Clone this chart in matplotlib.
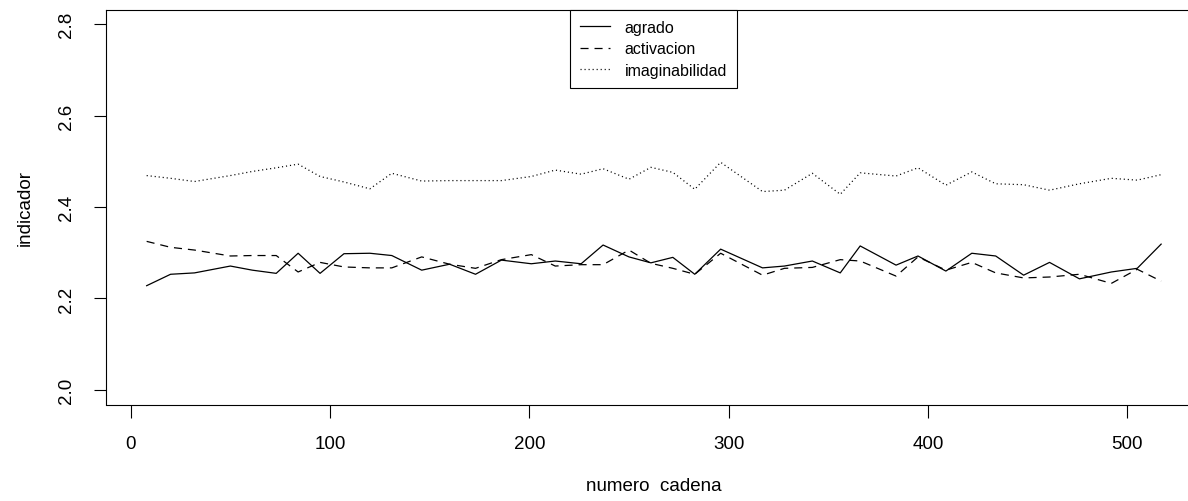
import matplotlib
matplotlib.use("Agg")
import matplotlib.pyplot as plt

# numero de cadena (eje x)
cadena = [8, 20, 32, 50, 61, 73, 84, 95, 107, 120,
          131, 146, 160, 173, 186, 201, 213, 226, 237, 250,
          261, 272, 283, 296, 317, 328, 342, 356, 366, 384,
          395, 409, 422, 434, 448, 461, 476, 492, 505, 517]

agrado = [2.228, 2.253, 2.256, 2.271, 2.262, 2.255, 2.299, 2.255, 2.298, 2.299,
          2.294, 2.262, 2.275, 2.253, 2.284, 2.276, 2.282, 2.276, 2.317, 2.291,
          2.278, 2.290, 2.253, 2.308, 2.267, 2.271, 2.282, 2.256, 2.315, 2.273,
          2.293, 2.260, 2.299, 2.293, 2.251, 2.279, 2.243, 2.258, 2.266, 2.319]

activacion = [2.325, 2.312, 2.306, 2.293, 2.294, 2.294, 2.258, 2.279, 2.269, 2.267,
              2.267, 2.291, 2.275, 2.266, 2.285, 2.296, 2.271, 2.274, 2.274, 2.306,
              2.277, 2.266, 2.253, 2.299, 2.251, 2.266, 2.268, 2.285, 2.282, 2.249,
              2.291, 2.262, 2.279, 2.256, 2.245, 2.247, 2.253, 2.233, 2.264, 2.238]

imaginabilidad = [2.469, 2.463, 2.456, 2.469, 2.478, 2.486, 2.494, 2.467, 2.455, 2.440,
                  2.474, 2.457, 2.458, 2.458, 2.458, 2.467, 2.481, 2.472, 2.484, 2.461,
                  2.487, 2.476, 2.439, 2.498, 2.434, 2.437, 2.474, 2.428, 2.475, 2.468,
                  2.486, 2.448, 2.477, 2.451, 2.449, 2.437, 2.451, 2.463, 2.459, 2.471]

x_ticks = [0, 100, 200, 300, 400, 500]
y_ticks = [2.0, 2.2, 2.4, 2.6, 2.8]

plt.rcParams['font.family'] = ['Liberation Sans', 'DejaVu Sans']
plt.rcParams['lines.scale_dashes'] = False

fig = plt.figure(figsize=(11.88, 5.02), dpi=100)
# el marco derecho queda fuera de la imagen, como en el original
ax = fig.add_axes([106 / 1188, 96.5 / 502, 1095 / 1188, 394.8 / 502])

ax.plot(cadena, agrado, color='black', lw=0.9, linestyle='-', label='agrado')
ax.plot(cadena, activacion, color='black', lw=0.9, linestyle=(0, (5.8, 4.3)), label='activacion')
ax.plot(cadena, imaginabilidad, color='black', lw=0.9, linestyle=(0, (0.8, 2.1)), label='imaginabilidad')

ax.set_xlim(-12.4, 537.0)
ax.set_ylim(1.968, 2.832)
ax.set_xticks(x_ticks)
ax.set_yticks(y_ticks)
ax.set_xticklabels([str(v) for v in x_ticks])
ax.set_yticklabels([f"{v:.1f}" for v in y_ticks], rotation=90, va='center')

for s in ax.spines.values():
    s.set_linewidth(0.8)
    s.set_color('black')

ax.tick_params(axis='both', direction='out', length=9, width=0.8, labelsize=13.5, colors='black')
ax.tick_params(axis='x', pad=13)
ax.tick_params(axis='y', pad=13)

ax.set_xlabel('numero  cadena', fontsize=13.5, labelpad=18)
ax.set_ylabel('indicador', fontsize=13.5, labelpad=18)

leg = ax.legend(loc='upper center', bbox_to_anchor=(0.5, 1.0), borderaxespad=0,
                fontsize=11.5, handlelength=1.9, handletextpad=0.9, labelspacing=0.4,
                borderpad=0.65, fancybox=False, framealpha=1, edgecolor='black')
leg.get_frame().set_linewidth(0.8)

fig.savefig('out.png', dpi=100)
